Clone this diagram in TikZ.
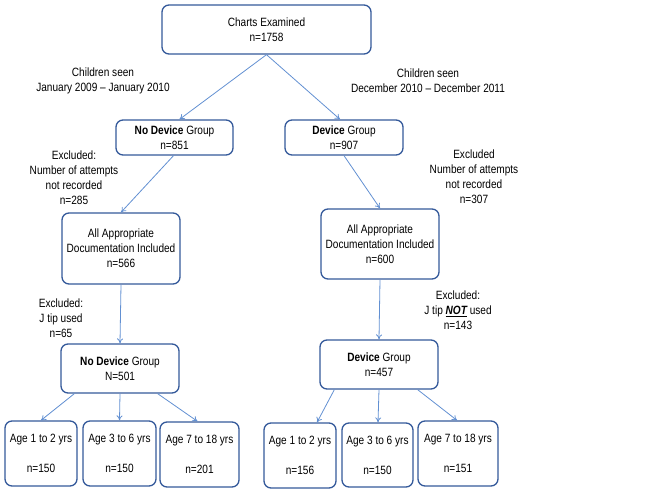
\documentclass[tikz,border=0pt]{standalone}
\usepackage{fontspec}
\usetikzlibrary{arrows.meta}
\setmainfont{Liberation Sans}[FakeStretch=0.84]
\definecolor{boxc}{HTML}{34599A}
\definecolor{arrc}{HTML}{6290D2}
\begin{document}
\begin{tikzpicture}[x=1pt,y=-1pt,
  box/.style={draw=boxc, line width=1.3pt, rounded corners=7pt, align=center, inner sep=0pt, font=\fontsize{12}{15}\selectfont},
  lbl/.style={align=center, inner sep=0pt, font=\fontsize{12}{15}\selectfont},
  arr/.style={draw=arrc, line width=0.8pt, -{To[length=5pt,width=6pt]}}]
\useasboundingbox (0,0) rectangle (648,493);
\node[box, minimum width=209pt, minimum height=49pt] (top) at (266.5,29.5) {Charts Examined\\n=1758};
\node[box, minimum width=117pt, minimum height=35pt] (nd1) at (174.5,137.5) {\textbf{No Device} Group\\n=851};
\node[box, minimum width=118pt, minimum height=35pt] (dv1) at (344,137.5) {\textbf{Device} Group\\n=907};
\node[box, minimum width=118pt, minimum height=71pt] (aa1) at (121,248.5) {All Appropriate\\Documentation Included\\n=566};
\node[box, minimum width=118pt, minimum height=70pt] (aa2) at (380,244) {All Appropriate\\Documentation Included\\n=600};
\node[box, minimum width=118pt, minimum height=49pt] (nd2) at (120,368.5) {\textbf{No Device} Group\\N=501};
\node[box, minimum width=118pt, minimum height=49pt] (dv2) at (379,364.5) {\textbf{Device} Group\\n=457};
\node[box, minimum width=72pt, minimum height=65pt] (a1) at (41,453.5) {Age 1 to 2 yrs\\[15pt]n=150};
\node[box, minimum width=73pt, minimum height=65pt] (a2) at (119.5,453.5) {Age 3 to 6 yrs\\[15pt]n=150};
\node[box, minimum width=79pt, minimum height=65pt] (a3) at (199.5,454.5) {Age 7 to 18 yrs\\[15pt]n=201};
\node[box, minimum width=72pt, minimum height=65pt] (b1) at (300,455.5) {Age 1 to 2 yrs\\[15pt]n=156};
\node[box, minimum width=71pt, minimum height=64pt] (b2) at (377.5,455) {Age 3 to 6 yrs\\[15pt]n=150};
\node[box, minimum width=80pt, minimum height=65pt] (b3) at (458,453.5) {Age 7 to 18 yrs\\[15pt]n=151};
\node[lbl] (l1) at (103,81) {Children seen\\January 2009 -- January 2010};
\node[lbl] (l2) at (428,81) {Children seen\\December 2010 -- December 2011};
\node[lbl] (l3) at (74,177.5) {Excluded:\\Number of attempts\\not recorded\\n=285};
\node[lbl] (l4) at (474,177) {Excluded\\Number of attempts\\not recorded\\n=307};
\node[lbl] (l5) at (61,318) {Excluded:\\J tip used\\n=65};
\node[lbl] (l6) at (458,310.5) {Excluded:\\J tip \textbf{\textit{\underline{NOT}}} used\\n=143};
\draw[arr] (top.south) -- ([xshift=5pt]nd1.north);
\draw[arr] (top.south) -- ([xshift=-4pt]dv1.north);
\draw[arr] ([xshift=-1pt]nd1.south) -- (aa1.north);
\draw[arr] (dv1.south) -- (aa2.north);
\draw[arr] (aa1.south) -- (nd2.north);
\draw[arr] (aa2.south) -- (dv2.north);
\draw[arr] ([xshift=14pt]nd2.south west) -- (a1.north);
\draw[arr] (nd2.south) -- (a2.north);
\draw[arr] ([xshift=-22pt]nd2.south east) -- ([xshift=-2pt]a3.north);
\draw[arr] ([xshift=15pt]dv2.south west) -- ([xshift=17pt]b1.north);
\draw[arr] (dv2.south) -- ([xshift=0.5pt]b2.north);
\draw[arr] ([xshift=-21pt]dv2.south east) -- ([xshift=-1pt]b3.north);
\end{tikzpicture}
\end{document}
